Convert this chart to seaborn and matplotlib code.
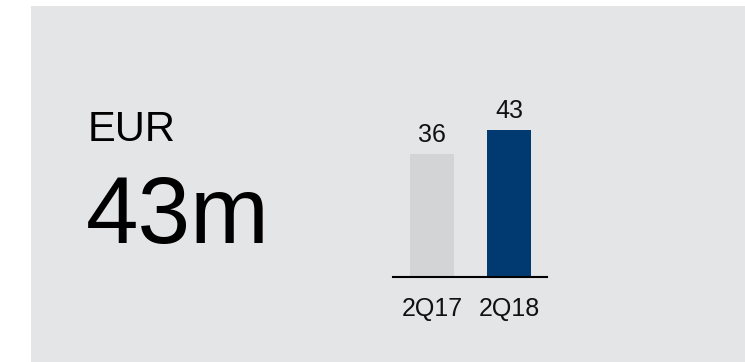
import matplotlib
matplotlib.use("Agg")
import matplotlib.pyplot as plt
from matplotlib.patches import Rectangle
import seaborn as sns

quarters = ["2Q17", "2Q18"]
values = [36, 43]
bar_colors = ["#D3D4D6", "#003A70"]
unit_label = "EUR"
headline = "43m"

sns.set_style("white")
plt.rcParams["font.family"] = ["Liberation Sans", "DejaVu Sans"]

W, H = 745, 362
fig = plt.figure(figsize=(W / 100, H / 100), dpi=100)
fig.patch.set_facecolor("white")

# grey panel behind everything
fig.patches.append(Rectangle((31 / W, 0), 1 - 31 / W, (H - 6) / H,
                             transform=fig.transFigure, facecolor="#E4E5E7",
                             edgecolor="none", zorder=-5))

# headline text
fig.text(88 / W, 1 - 141 / H, unit_label, fontsize=30, color="black",
         ha="left", va="baseline")
fig.text(86 / W, 1 - 243 / H, headline, fontsize=68, color="black",
         ha="left", va="baseline")

# small bar chart
px_per_unit = 3.42
ymax = 50
ax_left, ax_right, ax_bottom = 393, 547, 277
ax_h = ymax * px_per_unit
ax = fig.add_axes([ax_left / W, (H - ax_bottom) / H,
                   (ax_right - ax_left) / W, ax_h / H])
ax.set_facecolor("none")
ax.set_zorder(2)

sns.barplot(x=quarters, y=values, hue=quarters, palette=bar_colors,
            width=0.58, legend=False, ax=ax, saturation=1, linewidth=0)

for c in ax.containers:
    ax.bar_label(c, fmt="%d", padding=5, fontsize=18, color="#111111")

ax.set_xlim(-0.506, 1.494)
ax.set_ylim(0, ymax)
ax.set_yticks([])
ax.set_xlabel("")
ax.set_ylabel("")
for s in ["top", "right", "left"]:
    ax.spines[s].set_visible(False)
ax.spines["bottom"].set_color("black")
ax.spines["bottom"].set_linewidth(1.5)
ax.tick_params(axis="x", length=0, pad=14.5, labelsize=18, labelcolor="#111111")

fig.savefig("out.png", dpi=100, facecolor=fig.get_facecolor())
